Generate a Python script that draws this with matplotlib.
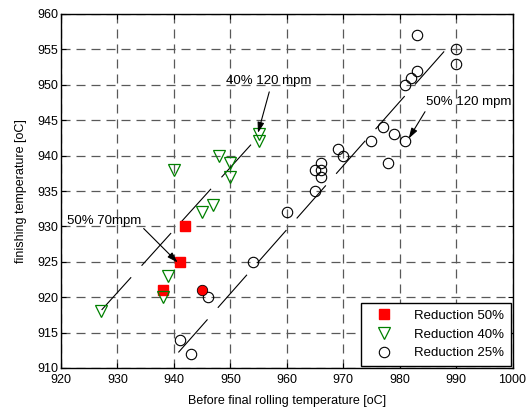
import matplotlib
matplotlib.use("Agg")
import matplotlib.pyplot as plt

plt.rcParams['font.family'] = ['Liberation Sans', 'DejaVu Sans']
plt.rcParams['font.size'] = 9
plt.rcParams['lines.scale_dashes'] = False

# data
red_x = [938, 941, 942]
red_y = [921, 925, 930]

green_x = [927, 938, 939, 940, 945, 947, 948, 950, 950, 955, 955]
green_y = [918, 920, 923, 938, 932, 933, 940, 939, 937, 943, 942]

circ_x = [941, 943, 946, 954, 960, 965, 965, 966, 966, 966, 969, 970,
          975, 977, 978, 979, 981, 981, 982, 983, 983, 990, 990]
circ_y = [914, 912, 920, 925, 932, 935, 938, 939, 938, 937, 941, 940,
          942, 944, 939, 943, 942, 950, 951, 952, 957, 955, 953]

# the odd filled red circle
dot_x = [945]
dot_y = [921]

# fit lines (start / end)
fit1_x = [927.2, 954.4]
fit1_y = [918.2, 942.2]
fit2_x = [940.8, 989.2]
fit2_y = [912.2, 955.9]

# annotations: label, text pos, arrow start, arrow tip
notes = [
    ("40% 120 mpm", (949.2, 950.5), (956.9, 949.0), (954.9, 943.2)),
    ("50% 120 mpm", (984.7, 947.5), (984.5, 946.2), (981.6, 942.4)),
    ("50% 70mpm", (921.1, 930.8), (934.65, 929.7), (940.67, 924.9)),
]

fig = plt.figure(figsize=(5.26, 4.08), dpi=100)
ax = fig.add_axes([61/526, 1-368/408, 451.5/526, 354/408])

ax.set_xlim(920, 1000)
ax.set_ylim(910, 960)
ax.set_xticks(range(920, 1001, 10))
ax.set_yticks(range(910, 961, 5))

ax.grid(True, color='0.35', linestyle=(0, (6.5, 4.3)), linewidth=0.9)
ax.set_axisbelow(True)

ax.plot(fit1_x, fit1_y, color='black', lw=0.8, linestyle=(0, (31.7, 11.2)))
ax.plot(fit2_x, fit2_y, color='black', lw=0.8, linestyle=(0, (31.7, 11.2)))

ax.plot(red_x, red_y, 's', color='red', ms=6.5, mec='red', label='Reduction 50%')
ax.plot(green_x, green_y, 'v', mfc='none', mec='green', ms=9, mew=0.9, label='Reduction 40%')
ax.plot(circ_x, circ_y, 'o', mfc='none', mec='black', ms=7.5, mew=0.8, label='Reduction 25%')
ax.plot(dot_x, dot_y, 'o', mfc='red', mec='black', ms=7.5, mew=0.6)

for label, tpos, start, tip in notes:
    ax.text(tpos[0], tpos[1], label, ha='left', va='center', fontsize=9.5)
    ax.annotate('', xy=tip, xytext=start,
                arrowprops=dict(arrowstyle='-|>,head_length=0.7,head_width=0.22',
                                color='black', lw=0.8, shrinkA=0, shrinkB=0))

ax.tick_params(direction='in', top=True, right=True, length=3.5, width=0.8, pad=2)
ax.tick_params(axis='x', pad=4)
for s in ax.spines.values():
    s.set_linewidth(1)

ax.set_xlabel('Before final rolling temperature [oC]', labelpad=7)
ax.set_ylabel('finishing temperature [oC]', labelpad=7)

leg = ax.legend(loc='lower right', fontsize=9.5, fancybox=False, framealpha=1,
                edgecolor='black', borderaxespad=0.15, handlelength=2.5,
                handletextpad=1.0, labelspacing=0.5, borderpad=0.5)
leg.get_frame().set_linewidth(1)

fig.savefig('out.png', dpi=100)
